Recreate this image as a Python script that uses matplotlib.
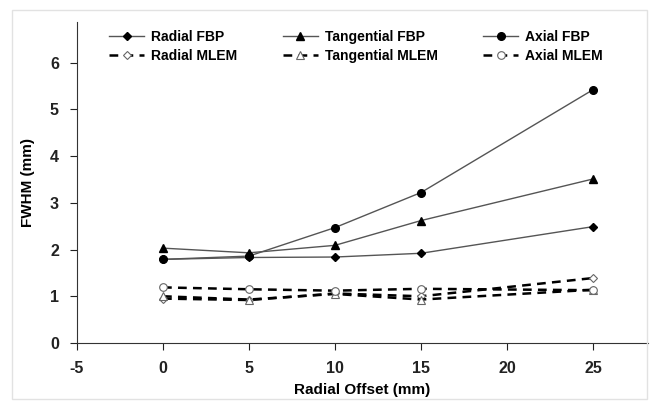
import matplotlib
matplotlib.use("Agg")
import matplotlib.pyplot as plt
from matplotlib.patches import Rectangle

plt.rcParams['font.family'] = ['Liberation Sans', 'DejaVu Sans']
plt.rcParams['font.weight'] = 'bold'
plt.rcParams['axes.unicode_minus'] = False

offset = [0, 5, 10, 15, 25]
radial_fbp = [1.79, 1.83, 1.84, 1.92, 2.49]
tangential_fbp = [2.03, 1.93, 2.09, 2.62, 3.51]
axial_fbp = [1.79, 1.86, 2.47, 3.22, 5.42]
radial_mlem = [0.95, 0.92, 1.06, 1.0, 1.39]
tangential_mlem = [1.0, 0.93, 1.05, 0.93, 1.14]
axial_mlem = [1.19, 1.15, 1.12, 1.16, 1.13]

fig = plt.figure(figsize=(6.57, 4.03), dpi=100)
fig.patches.append(Rectangle((12 / 657, 4 / 403), 635 / 657, 389 / 403, transform=fig.transFigure,
                             fill=False, edgecolor='#e2e2e2', lw=1))
ax = fig.add_axes([77 / 657, 1 - 343 / 403, (648 - 77) / 657, (343 - 22) / 403])

fbp_kw = dict(color='#555555', lw=1.0, markersize=5.5, markerfacecolor='black', markeredgecolor='black')
mlem_kw = dict(color='black', lw=1.8, ls=(0, (3.5, 2.5)), markersize=5.5,
               markerfacecolor='white', markeredgecolor='#666666', markeredgewidth=0.8)

ax.plot(offset, radial_fbp, marker='D', label='Radial FBP', **{**fbp_kw, 'markersize': 4.5})
ax.plot(offset, radial_mlem, marker='D', label='Radial MLEM', **{**mlem_kw, 'markersize': 4.5})
ax.plot(offset, tangential_fbp, marker='^', label='Tangential FBP', **fbp_kw)
ax.plot(offset, tangential_mlem, marker='^', label='Tangential MLEM', **mlem_kw)
ax.plot(offset, axial_fbp, marker='o', label='Axial FBP', **fbp_kw)
ax.plot(offset, axial_mlem, marker='o', label='Axial MLEM', **mlem_kw)

ax.set_xlim(-5, 28.2)
ax.set_ylim(0, 6.87)
ax.set_xticks([-5, 0, 5, 10, 15, 20, 25])
ax.set_yticks([0, 1, 2, 3, 4, 5, 6])
ax.spines['top'].set_visible(False)
ax.spines['right'].set_visible(False)
ax.spines['left'].set_color('#333333')
ax.spines['bottom'].set_color('#333333')
ax.tick_params(direction='out', length=5, labelsize=11.5, colors='#222222', pad=8)
ax.set_xlabel('Radial Offset (mm)', fontsize=11, fontweight='bold', labelpad=5)
ax.set_ylabel('FWHM (mm)', fontsize=11, fontweight='bold', labelpad=11)

ax.legend(ncol=3, loc='upper left', bbox_to_anchor=(0.035, 1.015), frameon=False,
          fontsize=10, handlelength=2.5, columnspacing=3.3, labelspacing=0.35,
          handletextpad=0.5)

fig.savefig('out.png', dpi=100, facecolor='white')
